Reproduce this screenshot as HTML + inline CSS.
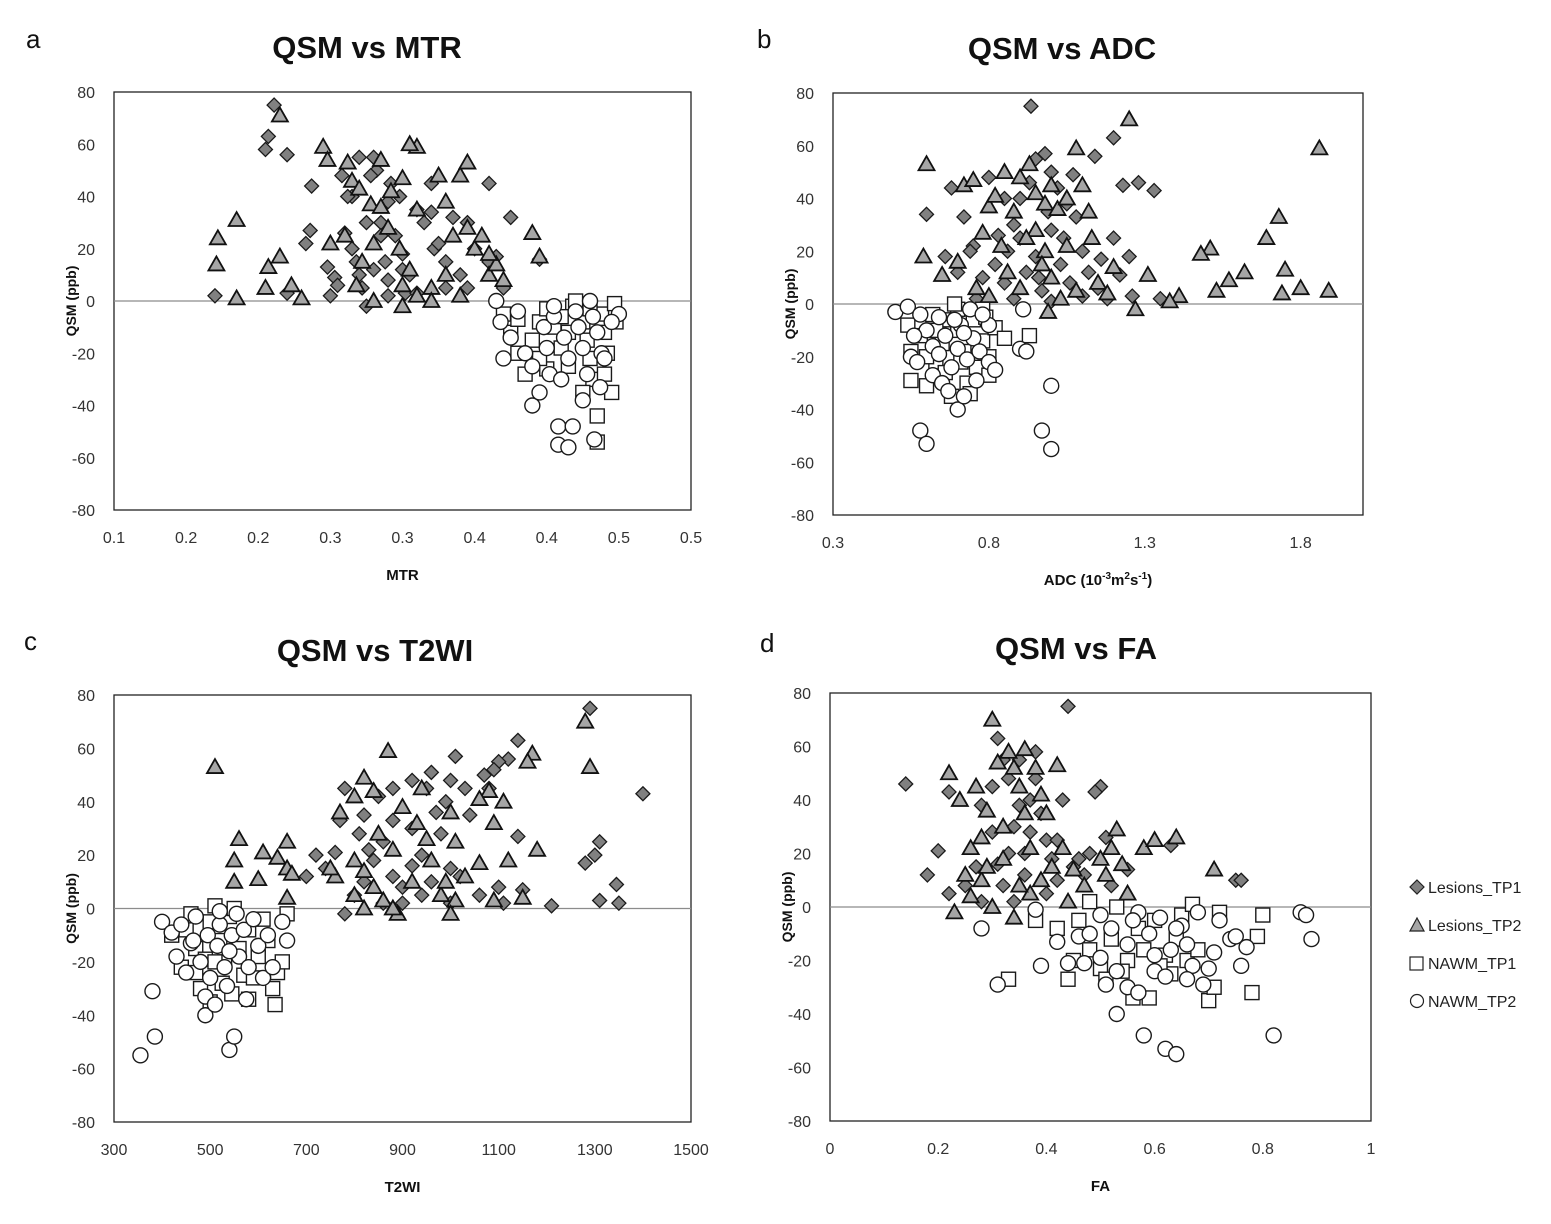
<!DOCTYPE html>
<html><head><meta charset="utf-8"><style>
body{margin:0;background:#fff;font-family:"Liberation Sans",Arial,sans-serif}
svg text{font-family:"Liberation Sans",Arial,sans-serif}
</style></head><body>
<svg id="fig" width="1551" height="1219" viewBox="0 0 1551 1219" xmlns="http://www.w3.org/2000/svg">
<rect width="1551" height="1219" fill="#fff"/>
<g font-size="16" fill="#222">
 <g><polygon points="1417,880 1424,887 1417,894 1410,887" fill="#808080" stroke="#222" stroke-width="1.2"/><text x="1428" y="893">Lesions_TP1</text></g>
 <g><polygon points="1417,918 1424,931 1410,931" fill="#a6a6a6" stroke="#222" stroke-width="1.2"/><text x="1428" y="931">Lesions_TP2</text></g>
 <g><rect x="1410" y="957" width="13" height="13" fill="#fff" stroke="#222" stroke-width="1.2"/><text x="1428" y="969">NAWM_TP1</text></g>
 <g><circle cx="1417" cy="1001" r="6.5" fill="#fff" stroke="#222" stroke-width="1.2"/><text x="1428" y="1007">NAWM_TP2</text></g>
</g>
</svg>
<script>
// ---- Panel a: QSM vs MTR ----
const aLes1=[[0.211,75],[0.207,63],[0.205,58],[0.22,56],[0.237,44],[0.236,27],[0.233,22],[0.248,13],[0.25,2],[0.253,9],[0.26,26],[0.258,48],[0.265,40],[0.265,20],[0.27,10],[0.272,5],[0.275,-2],[0.28,55],[0.282,50],[0.285,30],[0.288,15],[0.29,8],[0.292,45],[0.295,25],[0.298,40],[0.3,18],[0.302,3],[0.305,10],[0.31,35],[0.315,30],[0.32,45],[0.322,20],[0.33,15],[0.335,32],[0.34,10],[0.345,5],[0.365,17],[0.3,12],[0.29,38],[0.268,15],[0.262,40],[0.275,30],[0.255,6],[0.285,25],[0.29,2],[0.325,22],[0.33,5],[0.278,48],[0.28,12],[0.31,3],[0.17,2],[0.22,3],[0.32,34],[0.35,20],[0.36,15],[0.27,55],[0.36,45],[0.375,32],[0.395,16],[0.37,5],[0.345,30]];
const aLes2=[[0.172,24],[0.171,14],[0.185,31],[0.185,1],[0.207,13],[0.215,17],[0.205,5],[0.223,6],[0.23,1],[0.215,71],[0.245,59],[0.248,54],[0.262,53],[0.265,46],[0.25,22],[0.27,43],[0.278,37],[0.285,54],[0.292,42],[0.3,47],[0.31,59],[0.28,22],[0.272,15],[0.268,6],[0.28,0],[0.29,28],[0.298,20],[0.305,12],[0.31,35],[0.32,5],[0.33,38],[0.335,25],[0.34,48],[0.345,53],[0.35,20],[0.355,25],[0.36,10],[0.365,14],[0.39,26],[0.3,-2],[0.32,0],[0.345,28],[0.33,10],[0.305,60],[0.26,25],[0.3,6],[0.34,2],[0.325,48],[0.36,18],[0.285,36],[0.31,2],[0.395,17],[0.37,8]];
const aNawm1=[[0.37,-5],[0.375,-12],[0.38,-20],[0.385,-28],[0.39,-15],[0.395,-8],[0.4,-3],[0.405,-10],[0.41,-18],[0.415,-25],[0.418,-2],[0.42,0],[0.425,-8],[0.428,-15],[0.43,-22],[0.432,-30],[0.435,-44],[0.435,-54],[0.438,-5],[0.44,-12],[0.442,-20],[0.445,-35],[0.447,-1],[0.448,-8],[0.43,-3],[0.41,-6],[0.4,-26],[0.425,-35],[0.415,-12],[0.44,-28],[0.38,-7],[0.395,-22]];
const aNawm2=[[0.365,0],[0.368,-8],[0.37,-22],[0.375,-14],[0.38,-4],[0.385,-20],[0.39,-40],[0.395,-35],[0.398,-10],[0.4,-18],[0.402,-28],[0.405,-6],[0.408,-48],[0.408,-55],[0.41,-30],[0.412,-14],[0.415,-22],[0.415,-56],[0.418,-48],[0.42,-4],[0.422,-10],[0.425,-18],[0.428,-28],[0.43,0],[0.432,-6],[0.435,-12],[0.438,-20],[0.437,-33],[0.433,-53],[0.45,-5],[0.44,-22],[0.445,-8],[0.425,-38],[0.39,-25],[0.405,-2]];
const aXTicks=["0.1","0.2","0.2","0.3","0.3","0.4","0.4","0.5","0.5"];
// ---- Panel b: QSM vs ADC ----
const bLes1=[[0.6,34],[0.935,75],[1.2,63],[1.14,56],[1.23,45],[1.28,46],[1.33,43],[1.2,25],[1.25,18],[1.22,11],[1.35,2],[1.26,3],[0.68,44],[0.72,33],[0.75,22],[0.8,48],[0.85,40],[0.88,30],[0.9,25],[0.95,55],[0.98,57],[1.0,50],[1.02,44],[1.05,38],[1.08,33],[1.1,20],[0.82,15],[0.85,8],[0.88,2],[0.92,12],[0.95,18],[0.97,5],[1.0,28],[1.03,15],[1.06,8],[1.1,3],[1.12,12],[1.15,6],[0.78,10],[0.76,2],[0.7,12],[0.9,40],[0.93,46],[1.07,49],[0.86,20],[0.99,35],[1.04,25],[0.96,10],[1.16,17],[0.74,20],[0.83,26],[1.0,1],[0.66,18],[1.18,2]];
const bLes2=[[1.25,70],[1.86,59],[0.6,53],[1.08,59],[1.73,33],[1.69,25],[1.75,13],[1.62,12],[1.57,9],[1.53,5],[1.51,21],[1.48,19],[1.8,6],[1.89,5],[1.74,4],[1.41,3],[1.38,1],[1.31,11],[1.27,-2],[0.99,-3],[0.59,18],[0.65,11],[0.7,16],[0.72,45],[0.75,47],[0.78,27],[0.8,37],[0.82,41],[0.85,50],[0.88,35],[0.9,48],[0.93,53],[0.95,42],[0.98,38],[1.0,45],[1.02,36],[1.05,40],[1.1,45],[1.12,35],[0.86,12],[0.9,6],[0.95,28],[0.98,20],[1.0,10],[1.05,22],[1.08,5],[1.15,8],[1.2,14],[0.8,3],[0.76,6],[0.84,22],[0.92,25],[1.03,2],[1.18,4],[0.97,15],[1.13,25]];
const bNawm1=[[0.54,-8],[0.55,-18],[0.55,-29],[0.6,-31],[0.58,-12],[0.62,-4],[0.63,-22],[0.65,-15],[0.66,-26],[0.68,-35],[0.7,-10],[0.7,-2],[0.72,-18],[0.73,-30],[0.75,-6],[0.76,-24],[0.78,-14],[0.78,-2],[0.8,-27],[0.8,-20],[0.82,-9],[0.85,-13],[0.93,-12],[0.6,-20],[0.67,-6],[0.74,-34],[0.71,-22],[0.79,-5],[0.63,-10],[0.69,0]];
const bNawm2=[[0.5,-3],[0.54,-1],[0.55,-20],[0.57,-22],[0.58,-48],[0.6,-53],[0.6,-10],[0.62,-16],[0.62,-27],[0.64,-5],[0.65,-30],[0.66,-12],[0.67,-33],[0.68,-24],[0.7,-40],[0.7,-17],[0.71,-8],[0.72,-35],[0.73,-21],[0.74,-2],[0.75,-13],[0.76,-29],[0.77,-18],[0.8,-8],[0.8,-22],[0.82,-25],[0.9,-17],[0.91,-2],[0.92,-18],[0.97,-48],[1.0,-31],[1.0,-55],[0.58,-4],[0.64,-19],[0.69,-6],[0.78,-4],[0.56,-12],[0.72,-11]];
const bXTicks=["0.3","0.8","1.3","1.8"];
// ---- Panel c: QSM vs T2WI ----
const cLes1=[[1400,43],[1290,75],[1345,9],[1350,2],[1310,25],[1300,20],[1280,17],[1310,3],[1210,1],[1140,63],[1150,7],[1140,27],[1120,56],[1100,55],[1090,52],[1080,45],[1070,50],[1010,57],[1000,48],[990,40],[960,51],[950,45],[920,48],[880,45],[850,42],[820,35],[780,45],[770,33],[760,21],[740,15],[720,20],[700,12],[780,-2],[800,5],[820,10],[840,18],[860,25],[880,12],[900,8],[920,30],[940,20],[960,10],[980,28],[1000,15],[1020,12],[1040,35],[1060,5],[1100,8],[1110,2],[900,2],[880,33],[830,22],[940,5],[1000,2],[810,28],[1030,45],[970,36],[860,2],[920,16]];
const cLes2=[[510,53],[550,18],[560,26],[550,10],[600,11],[610,21],[640,19],[660,25],[660,15],[660,4],[670,13],[1280,70],[1290,53],[1170,58],[1160,55],[1180,22],[1110,40],[1090,32],[1080,44],[1060,41],[1030,12],[1010,3],[1000,-2],[870,59],[820,49],[840,44],[800,42],[770,36],[760,12],[800,18],[820,14],[850,28],[880,22],[890,-2],[900,38],[930,32],[950,26],[960,18],[980,5],[1000,36],[1010,25],[840,8],[860,3],[880,0],[800,5],[1090,3],[1060,17],[1120,18],[1150,4],[920,10],[940,45],[990,10],[750,15],[820,0]];
const cNawm1=[[420,-10],[440,-22],[450,-8],[460,-2],[470,-15],[480,-30],[490,-19],[500,-5],[500,-35],[510,1],[520,-12],[525,-28],[530,-20],[540,-3],[545,-32],[550,0],[560,-15],[570,-25],[580,-8],[580,-34],[600,-18],[610,-4],[620,-12],[630,-30],[635,-36],[640,-24],[650,-20],[660,-2],[470,-24],[510,-20],[590,-26]];
const cNawm2=[[355,-55],[380,-31],[385,-48],[400,-5],[420,-9],[430,-18],[440,-6],[450,-24],[460,-13],[470,-3],[480,-20],[490,-33],[490,-40],[495,-10],[500,-26],[510,-36],[515,-14],[520,-6],[530,-22],[535,-29],[540,-53],[545,-10],[550,-48],[555,-2],[560,-18],[570,-8],[575,-34],[580,-22],[590,-4],[600,-14],[610,-26],[620,-10],[630,-22],[650,-5],[660,-12],[520,-1],[465,-12],[540,-16]];
const cXTicks=["300","500","700","900","1100","1300","1500"];
// ---- Panel d: QSM vs FA ----
const dLes1=[[0.14,46],[0.2,21],[0.22,43],[0.18,12],[0.22,5],[0.25,8],[0.27,15],[0.28,38],[0.3,45],[0.31,63],[0.32,55],[0.33,48],[0.34,30],[0.35,55],[0.36,20],[0.37,40],[0.38,58],[0.39,35],[0.4,25],[0.41,18],[0.42,10],[0.43,40],[0.44,75],[0.45,15],[0.47,12],[0.5,45],[0.51,26],[0.52,8],[0.55,14],[0.63,23],[0.75,10],[0.76,10],[0.3,28],[0.32,8],[0.34,2],[0.36,12],[0.38,48],[0.4,5],[0.33,20],[0.35,38],[0.42,25],[0.48,20],[0.28,2],[0.46,18],[0.31,16],[0.37,28],[0.49,43]];
const dLes2=[[0.22,50],[0.24,40],[0.25,12],[0.26,22],[0.27,45],[0.28,26],[0.29,36],[0.3,70],[0.31,54],[0.32,30],[0.33,58],[0.34,52],[0.35,45],[0.36,59],[0.37,22],[0.38,52],[0.39,10],[0.4,35],[0.41,15],[0.42,53],[0.45,14],[0.5,18],[0.52,22],[0.53,29],[0.58,22],[0.6,25],[0.64,26],[0.71,14],[0.23,-2],[0.26,4],[0.3,0],[0.34,-4],[0.37,5],[0.44,2],[0.47,8],[0.51,12],[0.55,5],[0.28,10],[0.32,18],[0.36,35],[0.39,42],[0.43,22],[0.29,15],[0.35,8],[0.54,16]];
const dNawm1=[[0.33,-27],[0.38,-5],[0.42,-8],[0.44,-27],[0.45,-20],[0.46,-5],[0.48,-16],[0.48,2],[0.5,-23],[0.51,-27],[0.52,-12],[0.53,0],[0.55,-20],[0.56,-34],[0.57,-8],[0.58,-16],[0.59,-34],[0.6,-5],[0.62,-18],[0.63,-25],[0.64,-12],[0.65,-3],[0.66,-20],[0.67,1],[0.68,-16],[0.7,-35],[0.71,-30],[0.72,-2],[0.78,-32],[0.79,-11],[0.8,-3],[0.54,-24],[0.61,-22]];
const dNawm2=[[0.28,-8],[0.31,-29],[0.38,-1],[0.39,-22],[0.42,-13],[0.44,-21],[0.46,-11],[0.47,-21],[0.5,-3],[0.5,-19],[0.51,-29],[0.52,-8],[0.53,-24],[0.53,-40],[0.55,-14],[0.55,-30],[0.57,-32],[0.57,-2],[0.58,-48],[0.59,-10],[0.6,-24],[0.6,-18],[0.61,-4],[0.62,-26],[0.62,-53],[0.63,-16],[0.64,-55],[0.65,-7],[0.66,-14],[0.67,-22],[0.68,-2],[0.69,-29],[0.7,-23],[0.71,-17],[0.72,-5],[0.74,-12],[0.75,-11],[0.76,-22],[0.77,-15],[0.82,-48],[0.87,-2],[0.88,-3],[0.89,-12],[0.56,-5],[0.64,-8],[0.66,-27],[0.48,-10]];
const dXTicks=["0","0.2","0.4","0.6","0.8","1"];
const yTicks=["80","60","40","20","0","-20","-40","-60","-80"];

const NS="http://www.w3.org/2000/svg";
const svg=document.getElementById('fig');
function mk(tag,attrs,parent){const e=document.createElementNS(NS,tag);for(const k in attrs)e.setAttribute(k,attrs[k]);parent.appendChild(e);return e;}

function panel(id,letter,title,titleX,xtitle,box,xmin,xmax,xstep,xticks,letterPos,series){
  const g=mk('g',{},svg);
  
  
  const [L,T,R,B]=box;
  const sx=v=>L+(v-xmin)/(xmax-xmin)*(R-L);
  const sy=v=>B-(v+80)/160*(B-T);
  const lt=mk('text',{x:letterPos[0],y:letterPos[1],'font-size':26,fill:'#111'},g);lt.textContent=letter;
  
  
  const tt=mk('text',{x:titleX,y:T-34,'font-size':31,'font-weight':'bold','text-anchor':'middle',fill:'#111'},g);tt.textContent=title;
  
  
  const pb=mk('rect',{x:L,y:T,width:R-L,height:B-T,fill:'#fff',stroke:'#222','stroke-width':1.3},g);
  
  
  const zl=mk('line',{x1:L,x2:R,y1:sy(0),y2:sy(0),stroke:'#8c8c8c','stroke-width':1.2},g);
  
  
  yTicks.forEach((t,i)=>{const e=mk('text',{x:L-19,y:sy(80-20*i)+6,'font-size':16,'text-anchor':'end',fill:'#333'},g);e.textContent=t;
    
    });
  xticks.forEach((t,i)=>{const e=mk('text',{x:sx(xmin+xstep*i),y:B+33,'font-size':16,'text-anchor':'middle',fill:'#333'},g);e.textContent=t;
    
    });
  const yt=mk('text',{x:0,y:0,'font-size':14,'font-weight':'bold','text-anchor':'middle',fill:'#111',transform:`translate(${L-38},${(T+B)/2}) rotate(-90)`},g);yt.textContent='QSM (ppb)';
  
  
  const xt=mk('text',{x:(L+R)/2,y:B+70,'font-size':15,'font-weight':'bold','text-anchor':'middle',fill:'#111'},g);xt.innerHTML=xtitle;
  
  
  const kinds=['diamond','triangle','square','circle'];
  series.forEach((pts,si)=>{
    const sg=mk('g',{},g);
    
    
    pts.forEach(p=>{
      const x=sx(p[0]),y=sy(p[1]);let e;
      if(si===0)e=mk('polygon',{points:`${x},${y-7} ${x+7},${y} ${x},${y+7} ${x-7},${y}`,fill:'#808080',stroke:'#1a1a1a','stroke-width':1.3},sg);
      else if(si===1)e=mk('polygon',{points:`${x},${y-8} ${x+8},${y+6} ${x-8},${y+6}`,fill:'#a6a6a6',stroke:'#111','stroke-width':1.8},sg);
      else if(si===2)e=mk('rect',{x:x-7,y:y-7,width:14,height:14,fill:'#fff',stroke:'#1a1a1a','stroke-width':1.4},sg);
      else e=mk('circle',{cx:x,cy:y,r:7.5,fill:'#fff',stroke:'#1a1a1a','stroke-width':1.4},sg);
      
      
    });
  });
}
panel('a','a','QSM vs MTR',367,'MTR',[114,92,691,510],0.1,0.5,0.05,aXTicks,[26,48],[aLes1,aLes2,aNawm1,aNawm2]);
panel('b','b','QSM vs ADC',1062,'ADC (10<tspan font-size="10" dy="-6">-3</tspan><tspan dy="6">m</tspan><tspan font-size="10" dy="-6">2</tspan><tspan dy="6">s</tspan><tspan font-size="10" dy="-6">-1</tspan><tspan dy="6">)</tspan>',[833,93,1363,515],0.3,2.0,0.5,bXTicks,[757,48],[bLes1,bLes2,bNawm1,bNawm2]);
panel('c','c','QSM vs T2WI',375,'T2WI',[114,695,691,1122],300,1500,200,cXTicks,[24,650],[cLes1,cLes2,cNawm1,cNawm2]);
panel('d','d','QSM vs FA',1076,'FA',[830,693,1371,1121],0,1,0.2,dXTicks,[760,652],[dLes1,dLes2,dNawm1,dNawm2]);
</script>
</body></html>
